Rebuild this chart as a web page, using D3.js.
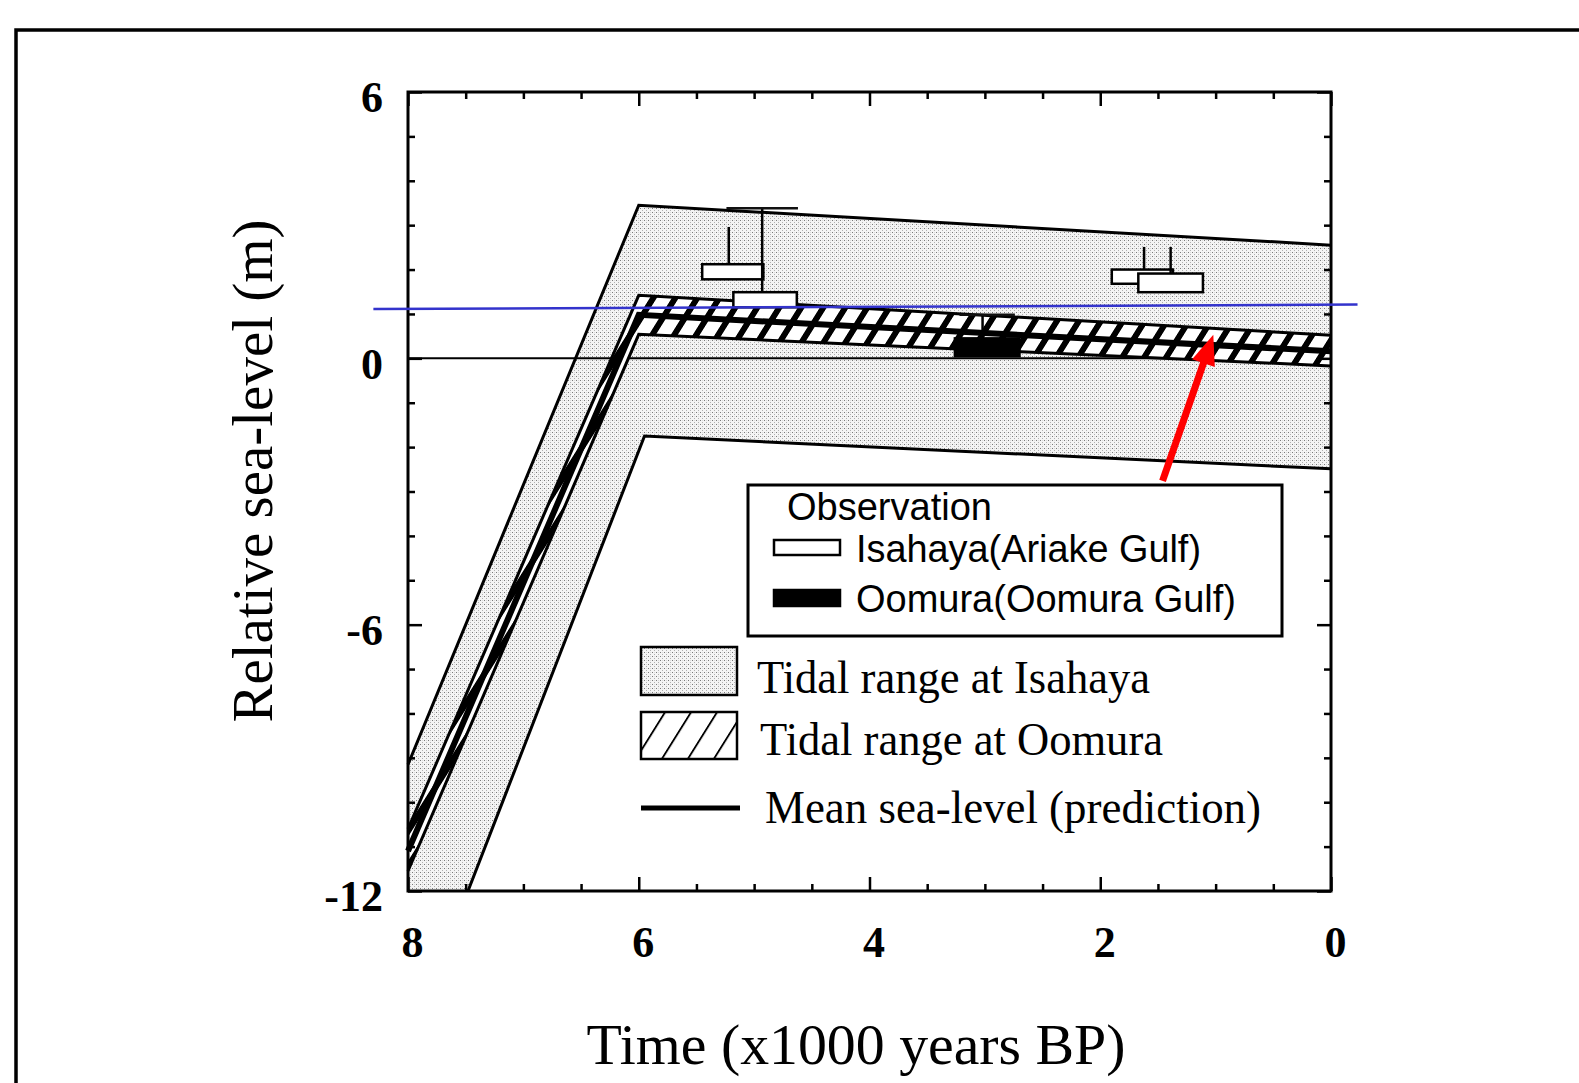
<!DOCTYPE html>
<html><head><meta charset="utf-8">
<script src="https://cdn.jsdelivr.net/npm/d3@7"></script>
<style>body{margin:0;background:#fff;} svg{display:block;}</style>
</head><body>
<svg id="c" width="1579" height="1083"></svg>
<script>
// ---------- data (time in x1000 years BP, sea level in m) ----------
const xMajorTicks = [8, 6, 4, 2, 0];
const xMinorTicks = [7.5, 7, 6.5, 5.5, 5, 4.5, 3.5, 3, 2.5, 1.5, 1, 0.5];
const yMajorTicks = [6, 0, -6, -12];
const yMinorTicks = [5, 4, 3, 2, 1, -1, -2, -3, -4, -5, -7, -8, -9, -10, -11];

// tidal range at Isahaya (stippled band)
const isahayaUpper = [[8, -9.15], [6, 3.45], [0, 2.55]];
const isahayaLower = [[7.48, -12], [5.95, -1.75], [0, -2.49]];

// tidal range at Oomura (hatched band) and predicted mean sea level
const oomuraUpper = [[8, -10.6], [6, 1.42], [0, 0.52]];
const meanSeaLevel = [[8, -11.1], [6, 0.98], [0, 0.16]];
const oomuraLower = [[8, -11.55], [6, 0.54], [0, -0.17]];

// observations: age range (older..younger), level range (low..high), error bar
const isahayaObs = [
  {older: 5.45, younger: 4.92, low: 1.78, high: 2.12, errAge: 5.22, errTop: 2.96, cap: null},
  {older: 5.18, younger: 4.63, low: 1.15, high: 1.49, errAge: 4.93, errTop: 3.38, cap: [5.24, 4.62]},
  {older: 1.90, younger: 1.37, low: 1.68, high: 2.00, errAge: 1.62, errTop: 2.51, cap: null},
  {older: 1.67, younger: 1.11, low: 1.49, high: 1.91, errAge: 1.39, errTop: 2.51, cap: null}
];
const oomuraObs = [
  {older: 3.26, younger: 2.70, low: 0.05, high: 0.45, errAge: 3.02, errTop: 0.98, cap: [3.22, 2.74]}
];

// annotations added on top of the figure
const blueLine = [[8.3, 1.11], [-0.23, 1.21]];
const redArrow = [[1.46, -2.76], [1.02, 0.53]];

const legendObs = ["Observation", "Isahaya(Ariake Gulf)", "Oomura(Oomura Gulf)"];
const legendMain = ["Tidal range at Isahaya", "Tidal range at Oomura", "Mean sea-level (prediction)"];
const xTitle = "Time (x1000 years BP)";
const yTitle = "Relative sea-level (m)";

// ---------- drawing ----------
const svg = d3.select('#c');
const x = d3.scaleLinear().domain([8, 0]).range([408, 1331]);
const y = d3.scaleLinear().domain([6, -12]).range([92, 891]);
const SERIF = "'Liberation Serif','Times New Roman',serif";
const SANS = "'Liberation Sans',Arial,Helvetica,sans-serif";

const defs = svg.append('defs');
// stipple
const st = defs.append('pattern').attr('id', 'stipple').attr('patternUnits', 'userSpaceOnUse')
  .attr('width', 4).attr('height', 4);
st.append('rect').attr('width', 4).attr('height', 4).attr('fill', '#f4f4f4');
st.append('rect').attr('x', 0).attr('y', 0).attr('width', 1).attr('height', 1).attr('fill', '#7a7a7a');
st.append('rect').attr('x', 2).attr('y', 2).attr('width', 1).attr('height', 1).attr('fill', '#b0b0b0');
st.append('rect').attr('x', 2).attr('y', 0).attr('width', 1).attr('height', 1).attr('fill', '#dadada');
// heavy hatch for plot band
const ht = defs.append('pattern').attr('id', 'hatch').attr('patternUnits', 'userSpaceOnUse')
  .attr('width', 22).attr('height', 22).attr('patternTransform', 'skewX(-32)');
ht.append('rect').attr('width', 22).attr('height', 22).attr('fill', '#fff');
ht.append('rect').attr('x', 0).attr('width', 7).attr('height', 22).attr('fill', '#000');
// thin hatch for legend
const lh = defs.append('pattern').attr('id', 'hatchThin').attr('patternUnits', 'userSpaceOnUse')
  .attr('width', 26).attr('height', 26).attr('patternTransform', 'translate(641,0) skewX(-32)');
lh.append('rect').attr('width', 26).attr('height', 26).attr('fill', '#fff');
lh.append('rect').attr('x', 0).attr('width', 2.2).attr('height', 26).attr('fill', '#000');

// outer frame
svg.append('rect').attr('x', 16).attr('y', 30).attr('width', 1700).attr('height', 1200)
  .attr('fill', 'none').attr('stroke', '#000').attr('stroke-width', 3.5);

const line = d3.line().x(d => x(d[0])).y(d => y(d[1]));

// Isahaya stippled band
const cornerPt = [x.domain()[0], y.domain()[1]];
const isaPoly = isahayaUpper.concat(isahayaLower.slice().reverse(), [cornerPt]);
svg.append('path').attr('d', line(isaPoly) + 'Z').attr('fill', 'url(#stipple)').attr('stroke', 'none');
svg.append('path').attr('d', line(isahayaUpper)).attr('fill', 'none').attr('stroke', '#000').attr('stroke-width', 3);
svg.append('path').attr('d', line(isahayaLower)).attr('fill', 'none').attr('stroke', '#000').attr('stroke-width', 3);

// zero line
svg.append('path').attr('d', line([[8, 0], [0, 0]])).attr('stroke', '#000').attr('stroke-width', 2);

// Oomura hatched band
const upperHalf = oomuraUpper.concat(meanSeaLevel.slice().reverse());
const lowerHalf = meanSeaLevel.concat(oomuraLower.slice().reverse());
svg.append('path').attr('d', line(upperHalf) + 'Z').attr('fill', 'url(#hatch)');
svg.append('path').attr('d', line(lowerHalf) + 'Z').attr('fill', 'url(#hatch)');
[oomuraUpper, oomuraLower].forEach(s => svg.append('path').attr('d', line(s))
  .attr('fill', 'none').attr('stroke', '#000').attr('stroke-width', 3));
svg.append('path').attr('d', line(meanSeaLevel)).attr('fill', 'none').attr('stroke', '#000')
  .attr('stroke-width', 6).attr('stroke-linejoin', 'miter');

// observations
function drawObs(list, fill) {
  const g = svg.append('g');
  list.forEach(o => {
    g.append('line').attr('x1', x(o.errAge)).attr('x2', x(o.errAge))
      .attr('y1', y(o.high)).attr('y2', y(o.errTop)).attr('stroke', '#000').attr('stroke-width', 2.5);
    if (o.cap) g.append('line').attr('x1', x(o.cap[0])).attr('x2', x(o.cap[1]))
      .attr('y1', y(o.errTop)).attr('y2', y(o.errTop)).attr('stroke', '#111').attr('stroke-width', 2.5);
    g.append('rect').attr('x', x(o.older)).attr('y', y(o.high))
      .attr('width', x(o.younger) - x(o.older)).attr('height', y(o.low) - y(o.high))
      .attr('fill', fill).attr('stroke', '#000').attr('stroke-width', 2.5);
  });
}
drawObs(isahayaObs, '#fff');
drawObs(oomuraObs, '#000');

// axes frame
function styleAxis(g) {
  g.select('.domain').remove();
  g.selectAll('.tick line').attr('stroke', '#000').attr('stroke-width', 2.5);
}
const fmt = d => String(d);
svg.append('g').attr('transform', `translate(0,${y(-12)})`)
  .call(d3.axisBottom(x).tickValues(xMajorTicks).tickSize(-14).tickPadding(35).tickFormat(fmt))
  .call(styleAxis)
  .call(g => g.selectAll('text').attr('font-family', SERIF).attr('font-weight', 'bold')
    .attr('font-size', 44).attr('fill', '#000').attr('dx', 4));
svg.append('g').attr('transform', `translate(0,${y(-12)})`)
  .call(d3.axisBottom(x).tickValues(xMinorTicks).tickSize(-7).tickFormat('')).call(styleAxis);
svg.append('g').attr('transform', `translate(0,${y(6)})`)
  .call(d3.axisTop(x).tickValues(xMajorTicks).tickSize(-14).tickFormat('')).call(styleAxis);
svg.append('g').attr('transform', `translate(0,${y(6)})`)
  .call(d3.axisTop(x).tickValues(xMinorTicks).tickSize(-7).tickFormat('')).call(styleAxis);
svg.append('g').attr('transform', `translate(${x(8)},0)`)
  .call(d3.axisLeft(y).tickValues(yMajorTicks).tickSize(-14).tickPadding(25).tickFormat(fmt))
  .call(styleAxis)
  .call(g => g.selectAll('text').attr('font-family', SERIF).attr('font-weight', 'bold')
    .attr('font-size', 44).attr('fill', '#000').attr('dy', '0.45em'));
svg.append('g').attr('transform', `translate(${x(8)},0)`)
  .call(d3.axisLeft(y).tickValues(yMinorTicks).tickSize(-7).tickFormat('')).call(styleAxis);
svg.append('g').attr('transform', `translate(${x(0)},0)`)
  .call(d3.axisRight(y).tickValues(yMajorTicks).tickSize(-14).tickFormat('')).call(styleAxis);
svg.append('g').attr('transform', `translate(${x(0)},0)`)
  .call(d3.axisRight(y).tickValues(yMinorTicks).tickSize(-7).tickFormat('')).call(styleAxis);
svg.append('rect').attr('x', x(8)).attr('y', y(6)).attr('width', x(0) - x(8)).attr('height', y(-12) - y(6))
  .attr('fill', 'none').attr('stroke', '#000').attr('stroke-width', 3);

// axis titles
svg.append('text').attr('x', 856).attr('y', 1064).attr('text-anchor', 'middle')
  .attr('font-family', SERIF).attr('font-size', 56).attr('textLength', 539).attr('lengthAdjust', 'spacingAndGlyphs')
  .text(xTitle);
svg.append('text').attr('transform', 'translate(272,471) rotate(-90)').attr('text-anchor', 'middle')
  .attr('font-family', SERIF).attr('font-size', 56).attr('textLength', 503).attr('lengthAdjust', 'spacingAndGlyphs')
  .text(yTitle);

// legend: observation box
const lg = svg.append('g');
lg.append('rect').attr('x', 748).attr('y', 485).attr('width', 534).attr('height', 151)
  .attr('fill', '#fff').attr('stroke', '#000').attr('stroke-width', 3);
const obsW = [205, 345, 380];
const obsX = [787, 856, 856];
const obsY = [520, 562, 612];
legendObs.forEach((t, i) => lg.append('text').attr('x', obsX[i]).attr('y', obsY[i])
  .attr('font-family', SANS).attr('font-size', 38).attr('textLength', obsW[i]).attr('lengthAdjust', 'spacingAndGlyphs')
  .text(t));
lg.append('rect').attr('x', 774).attr('y', 540).attr('width', 66).attr('height', 15)
  .attr('fill', '#fff').attr('stroke', '#000').attr('stroke-width', 2.5);
lg.append('rect').attr('x', 774).attr('y', 590).attr('width', 66).attr('height', 16)
  .attr('fill', '#000').attr('stroke', '#000').attr('stroke-width', 2.5);
// legend: bands and line
lg.append('rect').attr('x', 641).attr('y', 647).attr('width', 96).attr('height', 48)
  .attr('fill', 'url(#stipple)').attr('stroke', '#000').attr('stroke-width', 2.5);
lg.append('rect').attr('x', 641).attr('y', 712).attr('width', 96).attr('height', 47)
  .attr('fill', 'url(#hatchThin)').attr('stroke', '#000').attr('stroke-width', 2.5);
lg.append('line').attr('x1', 641).attr('x2', 740).attr('y1', 808).attr('y2', 808)
  .attr('stroke', '#000').attr('stroke-width', 5);
const mainW = [393, 403, 496];
const mainX = [757, 760, 765];
const mainY = [693, 755, 823];
legendMain.forEach((t, i) => lg.append('text').attr('x', mainX[i]).attr('y', mainY[i])
  .attr('font-family', SERIF).attr('font-size', 46).attr('textLength', mainW[i]).attr('lengthAdjust', 'spacingAndGlyphs')
  .text(t));

// blue annotation line
svg.append('path').attr('d', line(blueLine)).attr('stroke', '#3333cc').attr('stroke-width', 2.5).attr('fill', 'none');

// red arrow
const t0 = [x(redArrow[0][0]), y(redArrow[0][1])];
const t1 = [x(redArrow[1][0]), y(redArrow[1][1])];
const ang = Math.atan2(t1[1] - t0[1], t1[0] - t0[0]);
const headL = 30, headW = 12;
const base = [t1[0] - headL * Math.cos(ang), t1[1] - headL * Math.sin(ang)];
svg.append('line').attr('x1', t0[0]).attr('y1', t0[1]).attr('x2', base[0] + 2 * Math.cos(ang)).attr('y2', base[1] + 2 * Math.sin(ang))
  .attr('stroke', '#ff0000').attr('stroke-width', 7);
const px = -Math.sin(ang), py = Math.cos(ang);
svg.append('path').attr('d', `M${t1[0]},${t1[1]}L${base[0] + headW * px},${base[1] + headW * py}L${base[0] - headW * px},${base[1] - headW * py}Z`)
  .attr('fill', '#ff0000');
</script>
</body></html>
